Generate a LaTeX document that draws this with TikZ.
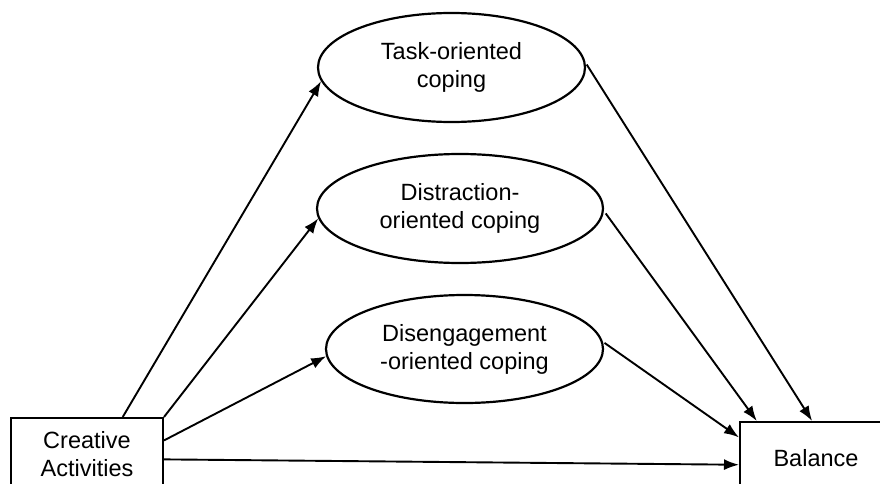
\documentclass[tikz,border=0pt]{standalone}
\usepackage{fontspec}
\setmainfont{Liberation Sans}
\usepackage{tikz}
\usetikzlibrary{arrows.meta}
\usetikzlibrary{shapes.geometric}
\usetikzlibrary{positioning}

\begin{document}
\begin{tikzpicture}[x=1pt,y=1pt]
	\tikzset{>={Latex[length=15pt,width=11pt]}}
	\tikzset{copebox/.style={ellipse,draw,line width=2.2pt,inner sep=0pt,align=center,font=\fontsize{23.5}{28}\selectfont}}
	\tikzset{varbox/.style={rectangle,draw,line width=2pt,minimum width=152,minimum height=72,inner sep=0pt,align=center,font=\fontsize{23.5}{28}\selectfont}}
	\tikzset{path/.style={->,line width=1.9pt}}
	\useasboundingbox (0,0) rectangle (880,483);
	
	\node[varbox] (cre) at (87,29) {Creative\\Activities};
	\node[varbox] (bal) at (816,25) {Balance};
	
	\node[copebox,minimum width=267,minimum height=109] (task) at (451.5,415.5) {Task-oriented\\coping};
	\node[copebox,minimum width=286,minimum height=109] (distr) at (460,274.5) {Distraction-\\oriented coping};
	\node[copebox,minimum width=277,minimum height=108] (diseng) at (464.5,134) {Disengagement\\-oriented coping};
	
	\draw[path] (cre.46) -- (task.186);
	\draw[path] (cre.north east) -- (distr.184);
	\draw[path] (cre.10) -- (diseng.183);
	\draw[path] (cre.-4.5) -- (bal.185);
	
	\draw[path,shorten <=2pt] (task.2) -- (bal.96);
	\draw[path,shorten <=3pt] (distr.-1) -- (bal.148);
	\draw[path,shorten <=2pt] (diseng.3) -- (bal.165);
	
\end{tikzpicture}
\end{document}
